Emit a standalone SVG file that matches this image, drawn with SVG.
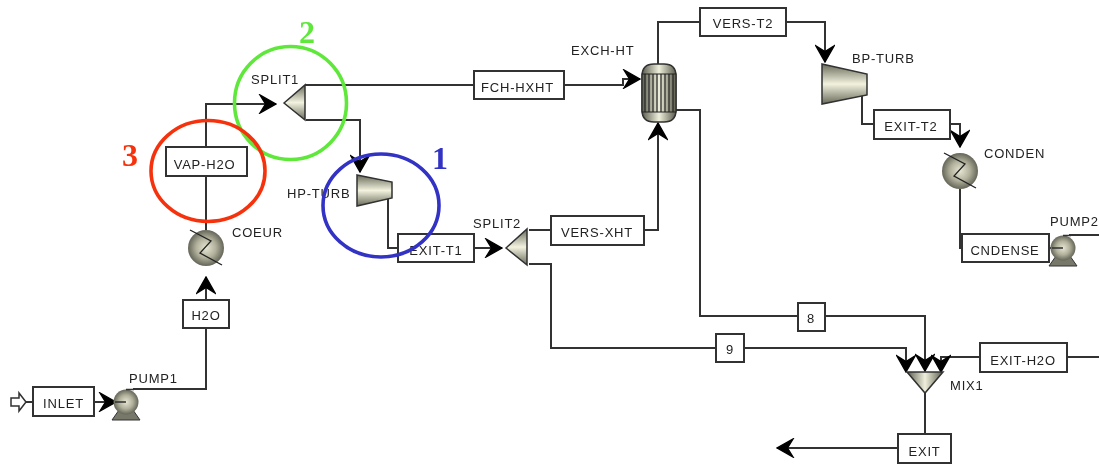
<svg xmlns="http://www.w3.org/2000/svg" width="1099" height="465" viewBox="0 0 1099 465">
<style>
svg>g{filter:url(#soft)}
.c{fill:none;stroke:#303030;stroke-width:2}
.a{marker-end:url(#arr)}
.b{fill:#fff;stroke:#303030;stroke-width:2}
.t{font-family:"Liberation Sans",Arial,sans-serif;font-size:13px;letter-spacing:.8px;fill:#222}
.m{text-anchor:middle}
.o{stroke:#303030;stroke-width:1.5}
.z{fill:none;stroke:#222;stroke-width:1.3}
.r{fill:none;stroke-width:3.6}
.n{font-family:"Liberation Serif","Times New Roman",serif;font-size:32px;font-weight:700}
</style>
<defs>
<filter id="soft" x="0" y="0" width="100%" height="100%" filterUnits="userSpaceOnUse" primitiveUnits="userSpaceOnUse"><feGaussianBlur stdDeviation=".4"/></filter>
<marker id="arr" markerUnits="userSpaceOnUse" viewBox="-18 -10 19 20" refX="0" refY="0" markerWidth="19" markerHeight="20" orient="auto"><path d="M0 0L-16 -9L-10.500 0L-16 9Z" fill="#000" stroke="#000" stroke-width="1.400"/></marker>
<radialGradient id="ball" cx=".5" cy=".5" r=".55"><stop offset="0" stop-color="#e6e6d4"/><stop offset=".5" stop-color="#b0b09b"/><stop offset="1" stop-color="#55554a"/></radialGradient>
<linearGradient id="vg" x1="0" y1="0" x2="0" y2="1"><stop offset="0" stop-color="#6a6a5a"/><stop offset=".5" stop-color="#f2f2df"/><stop offset="1" stop-color="#6a6a5a"/></linearGradient>
<linearGradient id="hg" x1="0" y1="0" x2="1" y2="0"><stop offset="0" stop-color="#5c5c4e"/><stop offset=".5" stop-color="#efefdc"/><stop offset="1" stop-color="#5c5c4e"/></linearGradient>
<g id="heat"><circle r="18" fill="url(#ball)"/><path class="z" d="M-16 -18L5 -7L-6 5L16 17"/></g>
<g id="pump"><path d="M-14 18L-7 8H7L14 18Z" fill="#77776a" stroke="#333"/><circle r="12.500" fill="url(#ball)"/><path d="M0 -12.500H8M-11 0H0" stroke="#303030" stroke-width="1.500" fill="none"/></g>
</defs>
<rect width="1099" height="465" fill="#fff"/>
<g id="connectors">
<path class="c" d="M26 402H33"/>
<path class="c a" d="M94 402H116"/>
<path class="c" d="M133 389H206V328"/>
<path class="c a" d="M206 300V277"/>
<path class="c" d="M206 230V176"/>
<path class="c a" d="M206 147V104H276"/>
<path class="c" d="M305 85H474"/>
<path class="c a" d="M564 85H623V79H640"/>
<path class="c a" d="M306 120H360V172"/>
<path class="c" d="M388 198V248H398"/>
<path class="c a" d="M474 248H502"/>
<path class="c" d="M529 230H551"/>
<path class="c a" d="M644 230H658V123"/>
<path class="c" d="M658 64V22H700"/>
<path class="c a" d="M786 22H825V62"/>
<path class="c" d="M862 95V124H874"/>
<path class="c a" d="M950 124H960V147"/>
<path class="c" d="M960 189V248H962"/>
<path class="c" d="M1049 248H1056M1069 235H1099"/>
<path class="c" d="M676 110H700V316H798"/>
<path class="c a" d="M825 316H925V371"/>
<path class="c" d="M529 264H551V348H716"/>
<path class="c a" d="M744 348H906V372"/>
<path class="c" d="M1099 357H1067"/>
<path class="c a" d="M980 357H941V372"/>
<path class="c" d="M925 393V434"/>
<path class="c a" d="M898 448H777"/>
</g>
<g id="INLET-FEED"><path d="M11 398H19V393L26 402L19 411V406H11Z" fill="#fff" stroke="#303030" stroke-width="1.500"/></g>
<g id="INLET"><rect class="b" x="33" y="387" width="61" height="29"/><text class="t m" x="63.500" y="408">INLET</text></g>
<g id="PUMP1"><use href="#pump" x="126" y="402"/><text class="t" x="129" y="383">PUMP1</text></g>
<g id="H2O"><rect class="b" x="183" y="300" width="46" height="28"/><text class="t m" x="206" y="320">H2O</text></g>
<g id="COEUR"><use href="#heat" x="206" y="248"/><text class="t" x="232" y="237">COEUR</text></g>
<g id="VAP-H2O"><rect class="b" x="166" y="147" width="81" height="29"/><text class="t m" x="204.500" y="169">VAP-H2O</text></g>
<g id="SPLIT1"><path class="o" d="M284 103L305 85V120Z" fill="url(#vg)"/><text class="t" x="251" y="84">SPLIT1</text></g>
<g id="FCH-HXHT"><rect class="b" x="474" y="71" width="90" height="28"/><text class="t m" x="517.500" y="92">FCH-HXHT</text></g>
<g id="HP-TURB"><path class="o" d="M357 175L392 182V198L357 206Z" fill="url(#vg)"/><text class="t" x="287" y="198">HP-TURB</text></g>
<g id="EXIT-T1"><rect class="b" x="398" y="234" width="76" height="28"/><text class="t m" x="436" y="255">EXIT-T1</text></g>
<g id="SPLIT2"><path class="o" d="M506 248L527 229V265Z" fill="url(#vg)"/><text class="t" x="473" y="228">SPLIT2</text></g>
<g id="VERS-XHT"><rect class="b" x="551" y="216" width="93" height="29"/><text class="t m" x="597" y="237">VERS-XHT</text></g>
<g id="EXCH-HT"><path class="o" d="M642 76Q642 64 654 64H664Q676 64 676 76V110Q676 122 664 122H654Q642 122 642 110Z" fill="url(#hg)"/><rect x="642" y="74" width="34" height="38" fill="url(#hg)" stroke="#222"/><path d="M645 74V112M649 74V112M653 74V112M657 74V112M661 74V112M665 74V112M669 74V112M673 74V112" stroke="#222" stroke-width="1.200"/><text class="t" x="571" y="55">EXCH-HT</text></g>
<g id="VERS-T2"><rect class="b" x="700" y="8" width="86" height="28"/><text class="t m" x="743" y="28">VERS-T2</text></g>
<g id="BP-TURB"><path class="o" d="M822 64L867 74V95L822 104Z" fill="url(#vg)"/><text class="t" x="852" y="63">BP-TURB</text></g>
<g id="EXIT-T2"><rect class="b" x="874" y="110" width="76" height="29"/><text class="t m" x="911" y="131">EXIT-T2</text></g>
<g id="CONDEN"><use href="#heat" x="960" y="171"/><text class="t" x="984" y="158">CONDEN</text></g>
<g id="CNDENSE"><rect class="b" x="962" y="234" width="87" height="28"/><text class="t m" x="1005" y="255">CNDENSE</text></g>
<g id="PUMP2"><use href="#pump" x="1063" y="248"/><text class="t" x="1050" y="226">PUMP2</text></g>
<g id="S8"><rect class="b" x="798" y="303" width="27" height="28"/><text class="t m" x="811" y="323">8</text></g>
<g id="S9"><rect class="b" x="716" y="334" width="28" height="28"/><text class="t m" x="730" y="354">9</text></g>
<g id="MIX1"><path class="o" d="M907 372H943L925 393Z" fill="url(#hg)"/><text class="t" x="950" y="390">MIX1</text></g>
<g id="EXIT-H2O"><rect class="b" x="980" y="343" width="87" height="29"/><text class="t m" x="1023" y="365">EXIT-H2O</text></g>
<g id="EXIT"><rect class="b" x="898" y="434" width="53" height="29"/><text class="t m" x="924.500" y="456">EXIT</text></g>
<g id="highlights">
<ellipse class="r" cx="290.500" cy="103" rx="56" ry="56.500" stroke="#5fe83a"/>
<ellipse class="r" cx="208" cy="171" rx="57" ry="50.500" stroke="#f5330a"/>
<ellipse class="r" cx="381" cy="205.500" rx="58" ry="51.500" stroke="#3232c4"/>
<text class="n" x="299" y="43" fill="#5fe83a">2</text>
<text class="n" x="122" y="166" fill="#f5330a">3</text>
<text class="n" x="432" y="169" fill="#3232c4">1</text>
</g>
</svg>
